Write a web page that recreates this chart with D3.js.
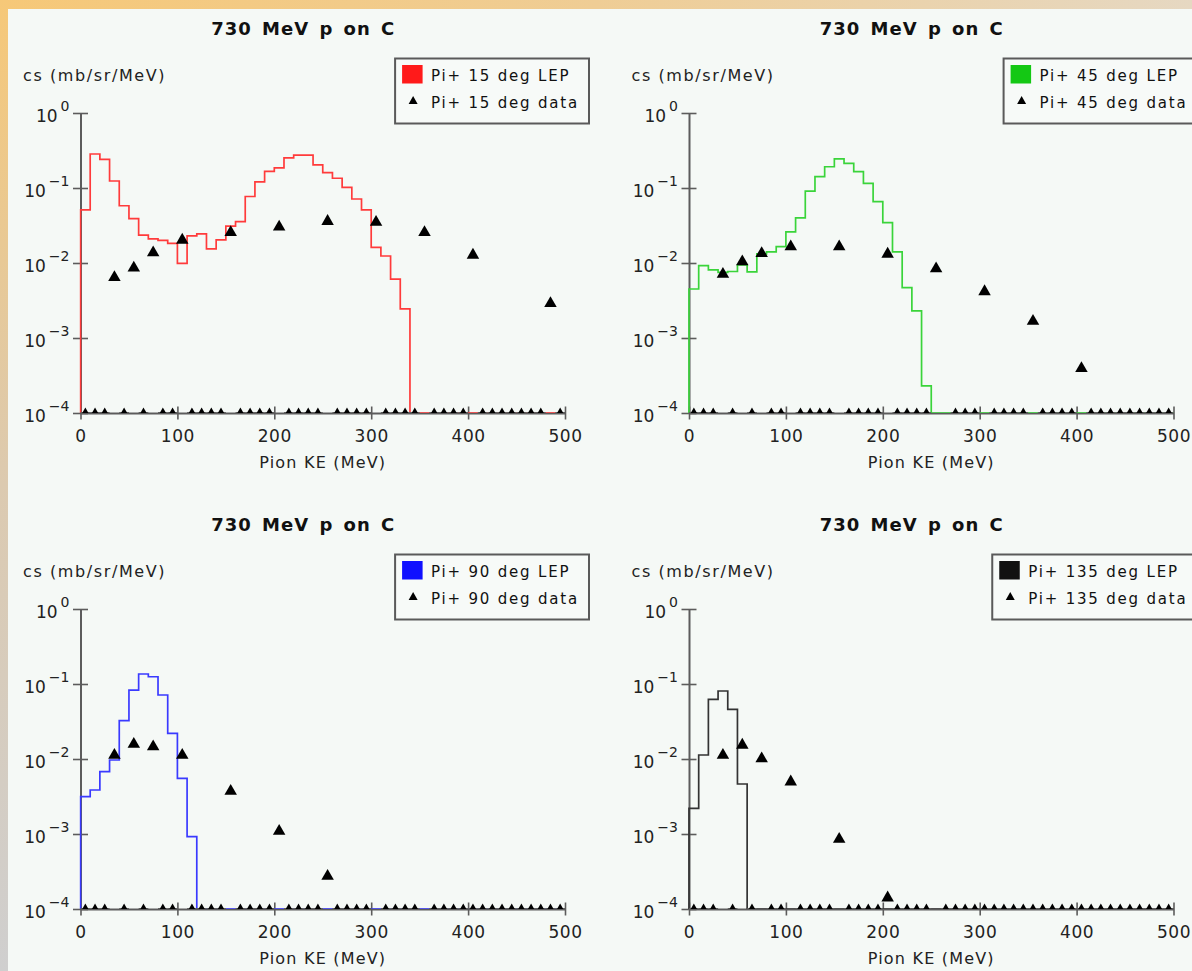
<!DOCTYPE html>
<html>
<head>
<meta charset="utf-8">
<script src="https://cdn.jsdelivr.net/npm/d3@7"></script>
<style>
  html, body { margin: 0; padding: 0; background: #f5f9f6; }
  svg { display: block; font-family: "DejaVu Sans", Verdana, sans-serif; }
</style>
</head>
<body>
<svg id="chart" width="1192" height="971"></svg>
<script>
// ---- data -----------------------------------------------------------------
// Pion kinetic energy bins (lower edges, MeV), 10 MeV wide, 0..500 MeV
const keBins = [0,10,20,30,40,50,60,70,80,90,100,110,120,130,140,150,160,170,180,190,
                200,210,220,230,240,250,260,270,280,290,300,310,320,330,340,350,360,370,380,390,
                400,410,420,430,440,450,460,470,480,490];
const binWidth = 10;

// LEP model cross sections (mb/sr/MeV) per bin
const lep15 = [0.051,0.284,0.241,0.124,0.058,0.039,0.0236,0.021,0.020,0.0183,
               0.0099,0.023,0.0244,0.0154,0.0203,0.031,0.0356,0.077,0.121,0.167,
               0.185,0.252,0.275,0.275,0.203,0.16,0.135,0.102,0.0713,0.051,
               0.0162,0.0124,0.0061,0.00244,0,0,0,0,0,0,
               0,0,0,0,0,0,0,0,0,0];
const lep45 = [0.0045,0.0092,0.0081,0.0075,0.0077,0.0094,0.0076,0.0132,0.0141,0.0165,
               0.026,0.040,0.091,0.142,0.192,0.244,0.213,0.165,0.115,0.066,
               0.0345,0.0141,0.0047,0.0023,0.00023,0,0,0,0,0,
               0,0,0,0,0,0,0,0,0,0,
               0,0,0,0,0,0,0,0,0,0];
const lep90 = [0.00315,0.00386,0.0068,0.0097,0.0324,0.083,0.136,0.125,0.0713,0.022,
               0.0055,0.00092,0,0,0,0,0,0,0,0,
               0,0,0,0,0,0,0,0,0,0,
               0,0,0,0,0,0,0,0,0,0,
               0,0,0,0,0,0,0,0,0,0];
const lep135 = [0.0022,0.0113,0.0625,0.0807,0.046,0.00464,0,0,0,0,
                0,0,0,0,0,0,0,0,0,0,
                0,0,0,0,0,0,0,0,0,0,
                0,0,0,0,0,0,0,0,0,0,
                0,0,0,0,0,0,0,0,0,0];

// Measured cross sections per bin (null = no measurement)
const data15 = [0,0,0,0.0068,0,0.0091,0,0.0145,0,0,
                0.0214,0,0,0,0,0.027,0,0,0,0,
                0.032,0,0,0,0,0.038,0,0,0,0,
                0.037,0,0,0,0,0.027,0,0,0,0,
                0.0135,0,0,0,0,0,0,0,0.00305,0];
const data45 = [0,0,0,0.0075,0,0.011,0,0.0142,0,0,
                0.0174,0,0,0,0,0.0174,0,0,0,0,
                0.0139,0,0,0,0,0.0089,null,0,0,0,
                0.0044,0,0,0,0,0.00177,0,0,0,0,
                0.000415,0,0,0,0,0,0,0,0,0];
const data90 = [0,0,0,0.0119,0,0.0167,0,0.0154,0,0,
                0.0119,0,0,0,0,0.00394,0,0,0,0,
                0.00115,0,0,0,0,0.00029,0,0,0,0,
                null,0,0,0,0,null,0,0,0,0,
                0,0,0,0,0,0,0,0,0,0];
const data135 = [0,0,0,0.0119,0,0.0162,0,0.0107,0,0,
                 0.00525,0,0,0,0,0.0009,0,0,0,0,
                 0.000149,0,0,0,0,null,0,0,0,0,
                 0,0,0,0,0,0,0,0,0,0,
                 0,0,0,0,0,0,0,0,0,0];

const angles = [15, 45, 90, 135];
const titleText = "730 MeV p on C";
const xTicks = [0, 100, 200, 300, 400, 500];
const yTicks = [1, 0.1, 0.01, 0.001, 0.0001];
const xDomain = [0, 500];
const yDomain = [1e-4, 1];

// ---- styles ---------------------------------------------------------------
const lepColors = ["#ff1a1a", "#14c814", "#1010ff", "#111111"];
const lepLines  = ["#ff3b3b", "#3ad43a", "#3a3aff", "#333333"];
const axisColor = "#5c5c5c";
const PW = 608.5, PH = 496;
const M = { left: 80.5, right: 565, top: 113, bottom: 413 };

const svg = d3.select("#chart");
const W = 1192, H = 971;
const defs = svg.append("defs");

// window frame
const gTop = defs.append("linearGradient").attr("id", "frameTop")
  .attr("x1", 0).attr("y1", 0).attr("x2", 1).attr("y2", 0);
gTop.append("stop").attr("offset", 0).attr("stop-color", "#f6c878");
gTop.append("stop").attr("offset", 0.5).attr("stop-color", "#efcd95");
gTop.append("stop").attr("offset", 1).attr("stop-color", "#e6d8c2");
const gLeft = defs.append("linearGradient").attr("id", "frameLeft")
  .attr("x1", 0).attr("y1", 0).attr("x2", 0).attr("y2", 1);
gLeft.append("stop").attr("offset", 0).attr("stop-color", "#f6c878");
gLeft.append("stop").attr("offset", 0.5).attr("stop-color", "#dccab0");
gLeft.append("stop").attr("offset", 1).attr("stop-color", "#cfcfcf");
svg.append("rect").attr("width", W).attr("height", 9).attr("fill", "url(#frameTop)");
svg.append("rect").attr("width", 8).attr("height", H).attr("fill", "url(#frameLeft)");
svg.append("rect").attr("x", 8).attr("y", 9).attr("width", W - 8).attr("height", H - 9).attr("fill", "#f5f9f6");

const panels = [
  { angle: angles[0], lep: lep15,  data: data15  },
  { angle: angles[1], lep: lep45,  data: data45  },
  { angle: angles[2], lep: lep90,  data: data90  },
  { angle: angles[3], lep: lep135, data: data135 }
];

const tri = (s) => { const h = s * Math.sqrt(3) / 2; return `M0,${-h/2}L${s/2},${h/2}L${-s/2},${h/2}Z`; };

panels.forEach((p, i) => {
  const ox = (i % 2) * PW, oy = Math.floor(i / 2) * PH;
  const g = svg.append("g").attr("transform", `translate(${ox},${oy})`);

  const x = d3.scaleLinear().domain(xDomain).range([M.left, M.right]);
  const y = d3.scaleLog().domain(yDomain).range([M.bottom, M.top]).clamp(true);
  const yv = v => y(Math.max(v, yDomain[0]));

  const clipId = "plotClip" + i;
  defs.append("clipPath").attr("id", clipId).append("rect")
    .attr("x", M.left - 1).attr("y", M.top - 20)
    .attr("width", M.right - M.left + 8).attr("height", M.bottom - M.top + 20);

  // title
  g.append("text").attr("x", PW / 2 - 1).attr("y", 35)
    .attr("text-anchor", "middle").attr("font-weight", "bold").attr("font-size", 18)
    .attr("letter-spacing", 1).attr("word-spacing", 3).attr("fill", "#111")
    .text(titleText);

  // y axis title
  g.append("text").attr("x", 23).attr("y", 81)
    .attr("font-size", 16).attr("letter-spacing", 1.6).attr("fill", "#222")
    .text("cs (mb/sr/MeV)");

  // x axis title
  g.append("text").attr("x", (M.left + M.right) / 2).attr("y", 468)
    .attr("text-anchor", "middle").attr("font-size", 16).attr("letter-spacing", 1.2).attr("fill", "#222")
    .text("Pion KE (MeV)");

  // axes
  const gx = g.append("g").attr("transform", `translate(0,${M.bottom})`)
    .call(d3.axisBottom(x).tickValues(xTicks).tickSizeOuter(0).tickFormat(d3.format("d")));
  gx.attr("font-size", null).attr("font-family", null);
  gx.select(".domain").attr("stroke", axisColor).attr("stroke-width", 2);
  gx.selectAll(".tick line").attr("y1", -6.5).attr("y2", 6.5).attr("stroke", axisColor).attr("stroke-width", 1.6);
  gx.selectAll(".tick text").attr("y", 29).attr("dy", null)
    .attr("font-size", 17).attr("letter-spacing", 0.6).attr("fill", "#222");

  const gy = g.append("g").attr("transform", `translate(${M.left},0)`)
    .call(d3.axisLeft(y).tickValues(yTicks).tickSizeOuter(0));
  gy.attr("font-size", null).attr("font-family", null);
  gy.select(".domain").attr("stroke", axisColor).attr("stroke-width", 2);
  gy.selectAll(".tick line").attr("x1", -7.5).attr("x2", 7.5).attr("stroke", axisColor).attr("stroke-width", 1.6);
  gy.selectAll(".tick text").each(function (d) {
    const t = d3.select(this).text(null).attr("x", -11).attr("y", 8.5).attr("dy", null).attr("fill", "#222");
    const e = Math.round(Math.log10(d));
    t.append("tspan").attr("font-size", 17).text("10");
    t.append("tspan").attr("font-size", 14).attr("dx", 3).attr("dy", -11)
      .text(e === 0 ? "0" : "\u2212" + Math.abs(e));
  });

  // LEP histogram
  const pts = [[keBins[0], 0]].concat(p.lep.map((v, k) => [keBins[k], v]))
    .concat([[xDomain[1], p.lep[p.lep.length - 1]]]);
  const clipped = g.append("g").attr("clip-path", `url(#${clipId})`);
  clipped.append("path")
    .attr("d", d3.line().x(d => x(d[0])).y(d => yv(d[1])).curve(d3.curveStepAfter)(pts))
    .attr("fill", "none").attr("stroke", lepLines[i]).attr("stroke-width", 1.7);

  // measured points
  const meas = p.data.map((v, k) => ({ ke: keBins[k] + binWidth / 2, v }))
    .filter(d => d.v !== null);
  // empty bins sit on the lower axis with a bin-wide bar
  g.append("g").selectAll("line").data(meas.filter(d => d.v === 0)).join("line")
    .attr("x1", d => x(d.ke - binWidth / 2)).attr("x2", d => x(d.ke + binWidth / 2))
    .attr("y1", d => yv(d.v)).attr("y2", d => yv(d.v))
    .attr("stroke", axisColor).attr("stroke-width", 2);
  const markers = g.append("g").attr("clip-path", `url(#${clipId})`);
  markers.selectAll("path").data(meas).join("path")
    .attr("transform", d => `translate(${x(d.ke)},${yv(d.v)})`)
    .attr("d", tri(12.5)).attr("fill", "#000");

  // legend
  const lg = g.append("g");
  const t1 = lg.append("text").attr("font-size", 15).attr("letter-spacing", 1.8).attr("fill", "#111")
    .text(`Pi+ ${p.angle} deg LEP`);
  const t2 = lg.append("text").attr("font-size", 15).attr("letter-spacing", 1.8).attr("fill", "#111")
    .text(`Pi+ ${p.angle} deg data`);
  const tw = Math.max(t1.node().getComputedTextLength(), t2.node().getComputedTextLength());
  const boxR = 589, boxT = 58.5, boxH = 65;
  const boxL = boxR - 10 - tw - 36;
  t1.attr("x", boxL + 36).attr("y", boxT + 22.5);
  t2.attr("x", boxL + 36).attr("y", boxT + 49);
  lg.insert("rect", ":first-child").attr("x", boxL).attr("y", boxT).attr("width", boxR - boxL).attr("height", boxH)
    .attr("fill", "#f7faf8").attr("stroke", "#5a5a5a").attr("stroke-width", 2);
  lg.append("rect").attr("x", boxL + 7).attr("y", boxT + 6.5).attr("width", 20.5).attr("height", 18.5)
    .attr("fill", lepColors[i]);
  lg.append("path").attr("transform", `translate(${boxL + 18},${boxT + 41.5})`)
    .attr("d", tri(9)).attr("fill", "#000");
});
</script>
</body>
</html>
